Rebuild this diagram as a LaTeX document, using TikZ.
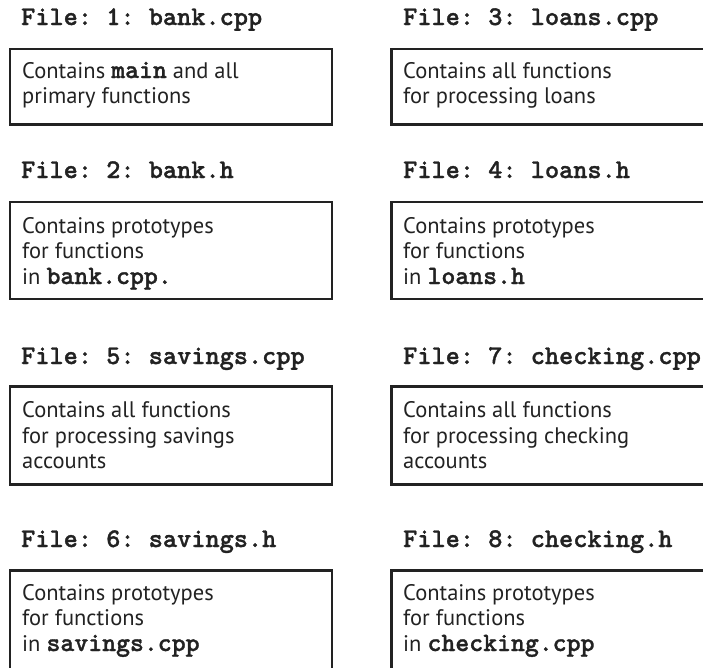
\documentclass[tikz,border=0pt]{standalone}
\usepackage{fontspec}
\setmainfont{PT Sans}
\newfontfamily\cdfont{lmmonolt10-bold}[Extension=.otf, FakeBold=1.2]
\definecolor{ink}{HTML}{222222}
\newcommand{\cd}[1]{{\fontsize{26.5}{26}\selectfont\cdfont #1}}
\tikzset{
  filebox/.style={draw=ink, line width=2.8pt, rectangle, inner sep=0pt, anchor=north west, minimum width=322pt},
  ftitle/.style={anchor=base west, inner sep=0pt, text=ink, font=\fontsize{27}{27}\selectfont\cdfont\frenchspacing},
  fline/.style={anchor=base west, inner sep=0pt, text=ink, font=\fontsize{22.5}{22}\selectfont},
}
\begin{document}
\begin{tikzpicture}[x=1pt,y=-1pt]
\useasboundingbox (0,0) rectangle (703,667);
\clip (0,0) rectangle (703,667);
% row 1
\node[ftitle] (t1) at (21,25) {File: 1: bank.cpp};
\node[filebox, minimum height=75.5pt] (b1) at (8.5,47.5) {};
\node[fline] (l1a) at (22,78) {Contains \cd{main} and all};
\node[fline] (l1b) at (22,103) {primary functions};
\node[ftitle] (t3) at (403,25) {File: 3: loans.cpp};
\node[filebox, minimum height=75.5pt] (b3) at (390,47.5) {};
\node[fline] (l3a) at (403,78) {Contains all functions};
\node[fline] (l3b) at (403,103) {for processing loans};
% row 2
\node[ftitle] (t2) at (21,178) {File: 2: bank.h};
\node[filebox, minimum height=97pt] (b2) at (8.5,200.5) {};
\node[fline] (l2a) at (22,233) {Contains prototypes};
\node[fline] (l2b) at (22,258) {for functions};
\node[fline] (l2c) at (22,284) {in \cd{bank.cpp.}};
\node[ftitle] (t4) at (403,178) {File: 4: loans.h};
\node[filebox, minimum height=97pt] (b4) at (390,200.5) {};
\node[fline] (l4a) at (403,233) {Contains prototypes};
\node[fline] (l4b) at (403,258) {for functions};
\node[fline] (l4c) at (403,284) {in \cd{loans.h}};
% row 3
\node[ftitle] (t5) at (21,364) {File: 5: savings.cpp};
\node[filebox, minimum height=98pt] (b5) at (8.5,385) {};
\node[fline] (l5a) at (22,417) {Contains all functions};
\node[fline] (l5b) at (22,443) {for processing savings};
\node[fline] (l5c) at (22,468) {accounts};
\node[ftitle] (t7) at (403,364) {File: 7: checking.cpp};
\node[filebox, minimum height=98pt] (b7) at (390,385) {};
\node[fline] (l7a) at (403,417) {Contains all functions};
\node[fline] (l7b) at (403,443) {for processing checking};
\node[fline] (l7c) at (403,468) {accounts};
% row 4
\node[ftitle] (t6) at (21,547) {File: 6: savings.h};
\node[filebox, minimum height=120pt] (b6) at (8.5,569) {};
\node[fline] (l6a) at (22,600) {Contains prototypes};
\node[fline] (l6b) at (22,625) {for functions};
\node[fline] (l6c) at (22,651) {in \cd{savings.cpp}};
\node[ftitle] (t8) at (403,547) {File: 8: checking.h};
\node[filebox, minimum height=120pt] (b8) at (390,569) {};
\node[fline] (l8a) at (403,600) {Contains prototypes};
\node[fline] (l8b) at (403,625) {for functions};
\node[fline] (l8c) at (403,651) {in \cd{checking.cpp}};
\end{tikzpicture}
\end{document}
